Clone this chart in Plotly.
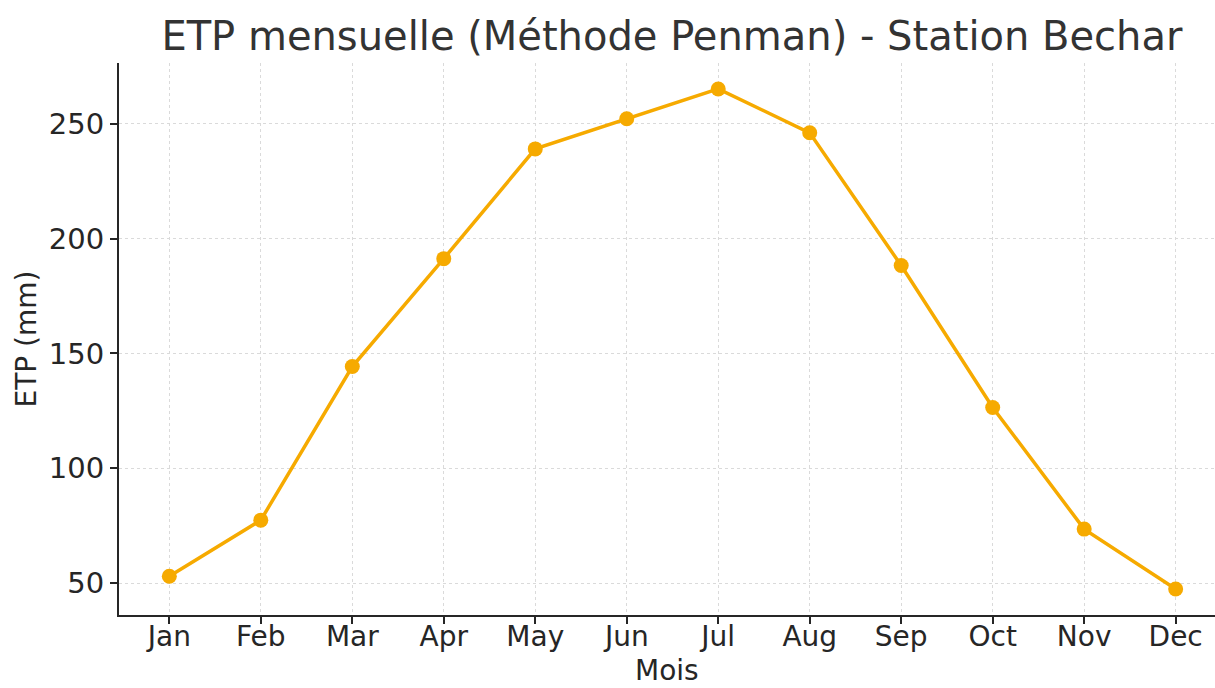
import plotly.graph_objects as go

months = ["Jan", "Feb", "Mar", "Apr", "May", "Jun", "Jul", "Aug", "Sep", "Oct", "Nov", "Dec"]
etp = [53, 77.4, 144.3, 191.3, 239.1, 252.2, 265.2, 246.1, 188.3, 126.5, 73.5, 47.4]
y_ticks = [50, 100, 150, 200, 250]

color = "#F6AA00"
font = "DejaVu Sans"
dark = "#262626"

fig = go.Figure()
fig.add_trace(go.Scatter(
    x=list(range(len(months))), y=etp, mode="lines+markers",
    line=dict(color=color, width=3.5),
    marker=dict(color=color, size=15),
    showlegend=False,
))

fig.update_layout(
    width=1215, height=688,
    paper_bgcolor="white", plot_bgcolor="white",
    margin=dict(l=119, r=0, t=63, b=73),
    font=dict(family=font, color=dark),
    title=dict(text="ETP mensuelle (Méthode Penman) - Station Bechar",
               x=0.553, xanchor="center", y=0.948, yanchor="middle",
               font=dict(size=40, color="#333333", family=font)),
)
fig.add_annotation(
    text="Mois", xref="paper", yref="paper", x=0.5, y=-0.1,
    xanchor="center", yanchor="middle", showarrow=False,
    font=dict(size=28, color=dark, family=font),
)
fig.update_xaxes(
    range=[-0.55, 11.43],
    tickmode="array", tickvals=list(range(len(months))), ticktext=months,
    tickfont=dict(size=28, color=dark),
    ticks="outside", ticklen=7, tickwidth=2, tickcolor=dark,
    showline=True, linecolor=dark, linewidth=2,
    showgrid=True, gridcolor="#dadada", gridwidth=1, griddash="dot",
    zeroline=False, automargin=False, ticklabelstandoff=-12,
)
fig.update_yaxes(
    range=[36.1, 276.5],
    tickmode="array", tickvals=y_ticks,
    tickfont=dict(size=29, color=dark),
    ticks="outside", ticklen=7, tickwidth=2, tickcolor=dark,
    showline=True, linecolor=dark, linewidth=2,
    showgrid=True, gridcolor="#dadada", gridwidth=1, griddash="dot",
    zeroline=False, automargin=False,
    title=dict(text="ETP (mm)", font=dict(size=28, color=dark), standoff=4),
)

fig.write_html("out.html", config={"displayModeBar": False},
               post_script="document.body.style.margin='0';")
